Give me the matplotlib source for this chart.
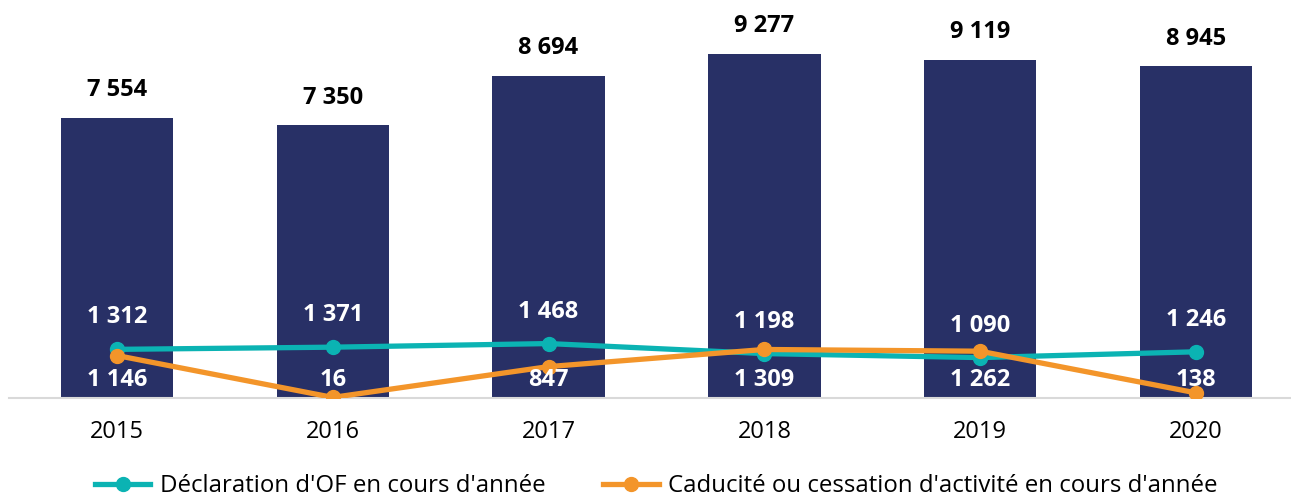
import matplotlib
matplotlib.use("Agg")
import matplotlib.pyplot as plt

years = ["2015", "2016", "2017", "2018", "2019", "2020"]
totals = [7554, 7350, 8694, 9277, 9119, 8945]
declarations = [1312, 1371, 1468, 1198, 1090, 1246]
caducites = [1146, 16, 847, 1309, 1262, 138]

BAR = "#283066"
TEAL = "#0BB3B3"
ORANGE = "#F3952A"

plt.rcParams['font.family'] = ['Open Sans', 'DejaVu Sans']

def fmt(v):
    return f"{v:,}".replace(",", " ")

fig = plt.figure(figsize=(12.91, 4.99), dpi=100)
ax = fig.add_axes([9/1291, 1 - 398/499, 1 - 9/1291, (398 - 5)/499])
x = list(range(len(years)))

ax.bar(x, totals, width=0.52, color=BAR, zorder=1)
ax.plot(x, declarations, color=TEAL, lw=3.8, marker="o", ms=10, zorder=3,
        label="Déclaration d'OF en cours d'année")
ax.plot(x, caducites, color=ORANGE, lw=3.8, marker="o", ms=10, zorder=4,
        label="Caducité ou cessation d'activité en cours d'année")

for xi, v in zip(x, totals):
    ax.annotate(fmt(v), (xi, v), xytext=(0, 20), textcoords="offset points",
                ha="center", va="center", fontsize=17, fontweight="bold", color="black")
for xi, v in zip(x, declarations):
    ax.annotate(fmt(v), (xi, v), xytext=(0, 23), textcoords="offset points",
                ha="center", va="center", fontsize=17, fontweight="bold", color="white", zorder=5)
for xi, v in zip(x, caducites):
    ax.annotate(fmt(v), (xi, 0), xytext=(0, 13), textcoords="offset points",
                ha="center", va="center", fontsize=17, fontweight="bold", color="white", zorder=5)

ax.set_xlim(-0.5, 5.44)
ax.set_ylim(0, 10600)
ax.set_xticks(x)
ax.set_xticklabels(years, fontsize=17)
ax.tick_params(axis="x", length=0, pad=16)
ax.set_yticks([])
for s in ["top", "right", "left"]:
    ax.spines[s].set_visible(False)
ax.spines["bottom"].set_color("#d9d9d9")
ax.spines["bottom"].set_linewidth(1.5)

fig.legend(loc="center", bbox_to_anchor=(0.5 + 11/1291, 1 - 486/499), ncol=2, frameon=False,
           fontsize=17.3, handlelength=2.3, columnspacing=2.4, handletextpad=0.4)

fig.savefig("out.png", dpi=100)
